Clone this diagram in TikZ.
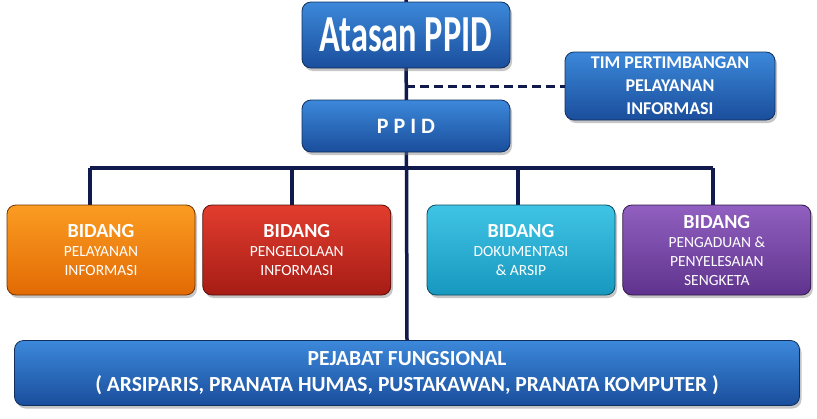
\documentclass[tikz,border=0pt]{standalone}
\usepackage{fontspec}
\setmainfont{Carlito}
\newfontfamily\atasanfont{Carlito}[FakeStretch=0.66]
\usetikzlibrary{positioning, shadows, backgrounds}

\definecolor{navyline}{HTML}{101A4C}
\definecolor{blueTop}{HTML}{3C88DA}
\definecolor{blueBot}{HTML}{1A4E9C}
\definecolor{orangeTop}{HTML}{FB9C22}
\definecolor{orangeBot}{HTML}{E26A04}
\definecolor{redTop}{HTML}{E23D2E}
\definecolor{redBot}{HTML}{A61C15}
\definecolor{cyanTop}{HTML}{40C4E5}
\definecolor{cyanBot}{HTML}{1798BF}
\definecolor{purpleTop}{HTML}{9160C0}
\definecolor{purpleBot}{HTML}{5F338D}

\tikzset{
  box/.style={rounded corners=9pt, line width=0.8pt, text=white, align=center,
    inner sep=0pt, drop shadow={opacity=0.45, shadow xshift=2pt, shadow yshift=-3pt}},
  bluebox/.style={box, top color=blueTop, bottom color=blueBot, draw=blueBot!60!black},
  orangebox/.style={box, top color=orangeTop, bottom color=orangeBot, draw=orangeBot!50!black},
  redbox/.style={box, top color=redTop, bottom color=redBot, draw=redBot!50!black},
  cyanbox/.style={box, top color=cyanTop, bottom color=cyanBot, draw=cyanBot!50!black},
  purplebox/.style={box, top color=purpleTop, bottom color=purpleBot, draw=purpleBot!50!black},
  bidang/.style={minimum width=188pt, minimum height=90pt,
    font=\fontsize{15.5}{19}\selectfont},
  conn/.style={draw=navyline, line width=3.5pt},
  dashconn/.style={conn, line width=3pt, dash pattern=on 9pt off 5pt},
}

\newcommand{\bidangtitle}{{\fontsize{20}{23}\selectfont\bfseries BIDANG}}

\begin{document}
\begin{tikzpicture}[x=1pt, y=-1pt]
    \useasboundingbox (0,0) rectangle (817,418);

    % Top of the chart
    \node[bluebox, minimum width=208pt, minimum height=66pt,
      font=\atasanfont\bfseries\fontsize{52}{56}\selectfont] (atasan) at (406,35) {Atasan PPID};
    \node[bluebox, minimum width=208pt, minimum height=52pt,
      font=\bfseries\fontsize{22}{24}\selectfont] (ppid) at (406,126)
      {P\kern5pt P\kern5pt I\kern5pt D};
    \node[bluebox, minimum width=210pt, minimum height=68pt,
      font=\bfseries\fontsize{18}{23}\selectfont] (tim) at (670,86)
      {TIM PERTIMBANGAN\\PELAYANAN\\INFORMASI};

    % Bidang boxes
    \node[orangebox, bidang] (b1) at (101,250) {\bidangtitle\\PELAYANAN\\INFORMASI};
    \node[redbox, bidang, right=7pt of b1] (b2) {\bidangtitle\\PENGELOLAAN\\INFORMASI};
    \node[cyanbox, bidang] (b3) at (521,250) {\bidangtitle\\DOKUMENTASI\\\& ARSIP};
    \node[purplebox, bidang, right=7pt of b3] (b4) {\bidangtitle\\PENGADUAN \&\\PENYELESAIAN\\SENGKETA};

    % Bottom box
    \node[bluebox, minimum width=785pt, minimum height=65pt,
      font=\bfseries\fontsize{21.5}{26}\selectfont] (pejabat) at (407,373)
      {PEJABAT FUNGSIONAL\\( ARSIPARIS, PRANATA HUMAS, PUSTAKAWAN, PRANATA KOMPUTER )};

    % Connectors
    \coordinate (d1) at (90,168);
    \coordinate (d2) at (292,168);
    \coordinate (d3) at (518,168);
    \coordinate (d4) at (713,168);
    \begin{scope}[on background layer]
        \draw[conn] ([yshift=3pt]atasan.north) -- (pejabat.north);
        \draw[dashconn] (atasan.south |- tim.west) -- (tim.west);
        \draw[conn] (d1) -- (d4);
        \draw[conn] (d1) -- (d1 |- b1.north);
        \draw[conn] (d2) -- (d2 |- b2.north);
        \draw[conn] (d3) -- (d3 |- b3.north);
        \draw[conn] (d4) -- (d4 |- b4.north);
    \end{scope}
\end{tikzpicture}
\end{document}
